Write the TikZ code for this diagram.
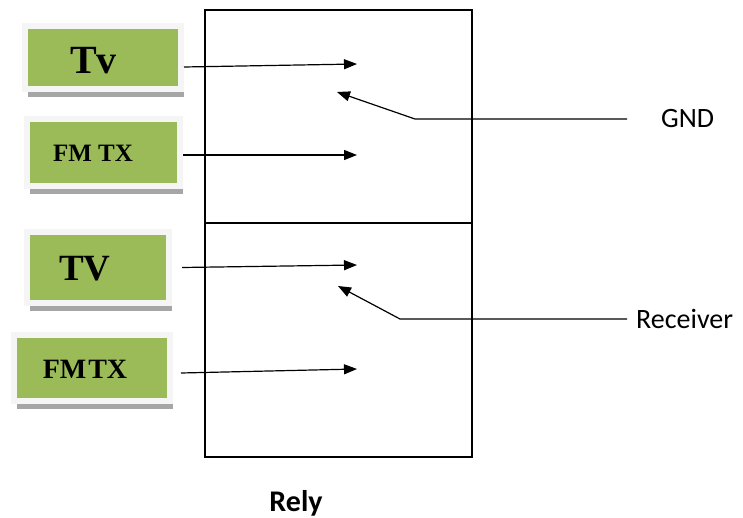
\documentclass[tikz,border=0pt]{standalone}
\usepackage{fontspec}
\setmainfont{Liberation Serif}
\newfontfamily\calibri{Carlito}
\usepackage{tikz}
\usetikzlibrary{arrows.meta,positioning,shadows,calc}
\definecolor{relygreen}{HTML}{9BBB59}

\begin{document}
\begin{tikzpicture}[x=1pt, y=-1pt,
    box/.style={fill=relygreen, draw=black!4, line width=6pt, drop shadow={shadow xshift=3pt, shadow yshift=-8pt, fill=black!35, opacity=1}},
    boxtext/.style={font=\bfseries, inner sep=0pt},
    wire/.style={line width=1.3pt},
    sig/.style={-{Triangle[length=13pt,width=10pt]}, line width=1.2pt},
    lbl/.style={font=\calibri\fontsize{28}{30}\selectfont, inner sep=0pt}]
    \useasboundingbox (0,0) rectangle (743,518);

    % relay body, split in two halves
    \node[draw, line width=1.3pt, minimum width=267, minimum height=447, inner sep=0pt] (rely) at (338.5,233.5) {};
    \draw[wire] ([yshift=10.5pt]rely.west) -- ([yshift=10.5pt]rely.east);
    \node[font=\calibri\bfseries\fontsize{30}{32}\selectfont, inner sep=0pt] (relytext) at (296,503) {Rely};

    % inputs
    \node[box, minimum width=156, minimum height=63] (tv) at (103,57.5) {};
    \node[boxtext, font=\bfseries\fontsize{40}{44}\selectfont] (tvtext) at ([xshift=-9.5pt,yshift=-3pt]tv) {Tv};
    \node[box, minimum width=153, minimum height=67] (fm) at (103.5,152.5) {};
    \node[boxtext, font=\bfseries\fontsize{25}{28}\selectfont] (fmtext) at ([xshift=-10.5pt,yshift=-1pt]fm) {FM TX};
    \node[box, minimum width=142, minimum height=71] (tvb) at (98,267.5) {};
    \node[boxtext, font=\bfseries\fontsize{37}{40}\selectfont] (tvbtext) at ([xshift=-13pt,yshift=-1pt]tvb) {TV};
    \node[box, minimum width=156, minimum height=66] (fmb) at (92,368) {};
    \node[boxtext, font=\bfseries\fontsize{28}{30}\selectfont] (fmbtext) at ([xshift=-7pt,yshift=-1pt]fmb) {FM\hspace{2pt}TX};

    % contact points inside the relay
    \coordinate (tvin) at (357,64);
    \coordinate (fmin) at (357,155);
    \coordinate (tvbin) at (357,265);
    \coordinate (fmbin) at (357,369);
    \coordinate (gndknee) at (415,119);
    \coordinate (gndtip) at (337,92);
    \coordinate (recknee) at (400,319);
    \coordinate (rectip) at (338,286);

    \draw[sig] ([yshift=-9.5pt]tv.east) -- (tvin);
    \draw[sig] ([yshift=-2.5pt]fm.east) -- (fmin);
    \draw[sig] ([xshift=10pt]tvb.east) -- (tvbin);
    \draw[sig] ([xshift=8pt,yshift=-5pt]fmb.east) -- (fmbin);

    % outputs
    \node[lbl, anchor=west] (gnd) at (661,119) {GND};
    \node[lbl, anchor=west] (rec) at (636,319) {Receiver};
    \draw[sig] ([xshift=-34pt]gnd.west) -- (gndknee) -- (gndtip);
    \draw[sig] ([xshift=-9pt]rec.west) -- (recknee) -- (rectip);
\end{tikzpicture}
\end{document}
